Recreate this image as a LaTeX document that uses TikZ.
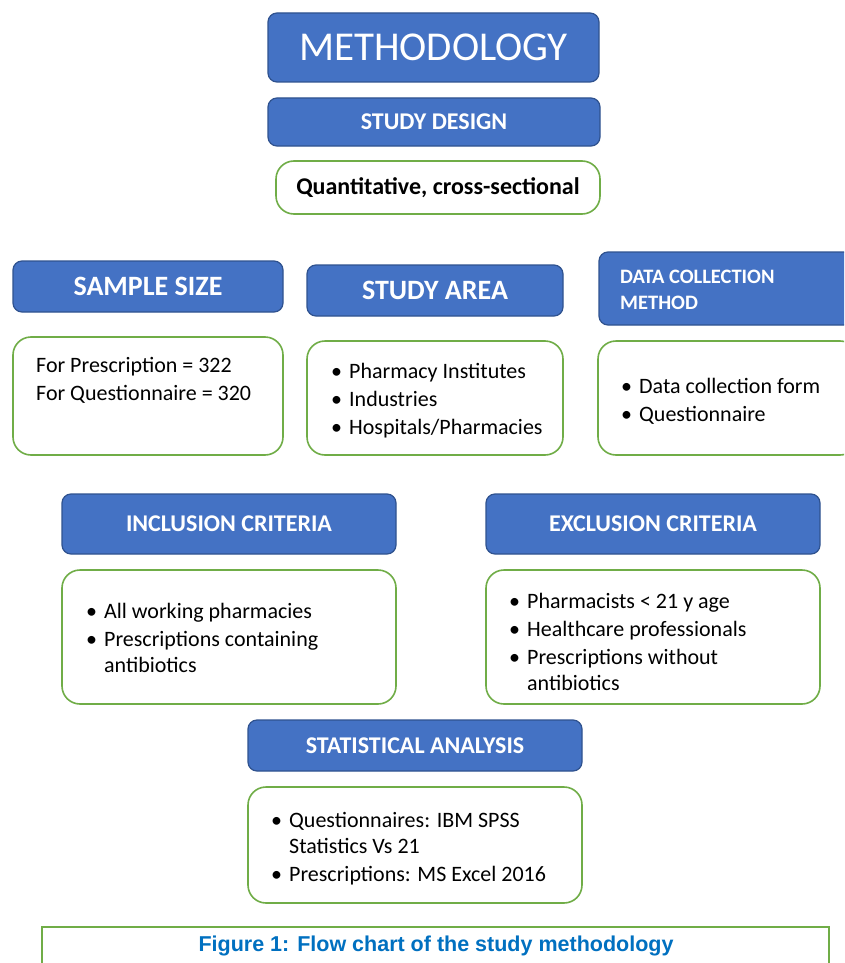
\documentclass[tikz,border=0pt]{standalone}
\usepackage{fontspec}
\setmainfont{Carlito}
\newfontfamily\capfont{Liberation Sans}
\definecolor{headblue}{HTML}{4472C4}
\definecolor{headedge}{HTML}{2F528F}
\definecolor{boxgreen}{HTML}{70AD47}
\definecolor{capblue}{HTML}{0070C0}
\newcommand{\fs}[2]{\fontsize{#1}{#2}\selectfont}
\tikzset{
  headbox/.style={draw=headedge, fill=headblue, line width=1.2pt, rounded corners=9pt,
    text=white, font=\bfseries\fs{24}{28}, inner sep=0pt},
  itembox/.style={draw=boxgreen, fill=white, line width=1.6pt, rounded corners=18pt, inner sep=0pt},
  itemtext/.style={anchor=base west, inner sep=0pt, align=left, font=\fs{22}{28}}
}
\begin{document}
\begin{tikzpicture}[x=1pt,y=-1pt]
  \useasboundingbox[fill=white] (0,0) rectangle (844,963);
  \clip (0,0) rectangle (844,963);
  % top column
  \node[headbox, minimum width=331pt, minimum height=69pt, font=\fs{41}{44}] (method) at (433.5,47.5) {METHODOLOGY};
  \node[headbox, minimum width=332pt, minimum height=48pt] (design) at (434,122) {STUDY DESIGN};
  \node[itembox, minimum width=324pt, minimum height=53pt, font=\bfseries\fs{24}{28}] (designbox) at (438,187.5) {Quantitative, cross-sectional};
  % three headings
  \node[headbox, minimum width=270pt, minimum height=51pt, font=\bfseries\fs{28}{32}] (sample) at (148,286.5) {SAMPLE SIZE};
  \node[headbox, minimum width=256pt, minimum height=51pt, font=\bfseries\fs{28}{32}] (area) at (435,290.5) {STUDY AREA};
  \node[headbox, minimum width=260pt, minimum height=73pt] (data) at (729,288.5) {};
  \node[anchor=west, text=white, font=\bfseries\fs{20.5}{26}, align=left, inner sep=0pt] (datatext) at (620,290) {DATA COLLECTION\\METHOD};
  % three lists
  \node[itembox, minimum width=270pt, minimum height=118pt] (samplebox) at (148,396) {};
  \node[itemtext] (sampletext) at (36,372) {\begin{tabular}[t]{@{}l@{}}
    For Prescription = 322\\
    For Questionnaire = 320
  \end{tabular}};
  \node[itembox, minimum width=256pt, minimum height=114pt] (areabox) at (435,398) {};
  \node[itemtext] (areatext) at (331,378) {\begin{tabular}[t]{@{}l@{\hspace{7pt}}l@{}}
    \textbullet & Pharmacy Institutes\\
    \textbullet & Industries\\
    \textbullet & Hospitals/Pharmacies
  \end{tabular}};
  \node[itembox, minimum width=260pt, minimum height=114pt] (databox) at (728,398) {};
  \node[itemtext] (datalist) at (621,393) {\begin{tabular}[t]{@{}l@{\hspace{7pt}}l@{}}
    \textbullet & Data collection form\\
    \textbullet & Questionnaire
  \end{tabular}};
  % criteria
  \node[headbox, minimum width=334pt, minimum height=60pt] (incl) at (229,524) {INCLUSION CRITERIA};
  \node[headbox, minimum width=334pt, minimum height=60pt] (excl) at (653,524) {EXCLUSION CRITERIA};
  \node[itembox, minimum width=334pt, minimum height=134pt] (inclbox) at (229,637) {};
  \node[itemtext] (incltext) at (86,618) {\begin{tabular}[t]{@{}l@{\hspace{7pt}}l@{}}
    \textbullet & All working pharmacies\\
    \textbullet & Prescriptions containing\\[-2pt]
                & antibiotics
  \end{tabular}};
  \node[itembox, minimum width=334pt, minimum height=134pt] (exclbox) at (653,637) {};
  \node[itemtext] (excltext) at (509,608) {\begin{tabular}[t]{@{}l@{\hspace{7pt}}l@{}}
    \textbullet & Pharmacists < 21 y age\\
    \textbullet & Healthcare professionals\\
    \textbullet & Prescriptions without\\[-2pt]
                & antibiotics
  \end{tabular}};
  % analysis
  \node[headbox, minimum width=334pt, minimum height=51pt] (stats) at (415,745.5) {STATISTICAL ANALYSIS};
  \node[itembox, minimum width=334pt, minimum height=116pt] (statsbox) at (415,845) {};
  \node[itemtext] (statstext) at (271,827) {\begin{tabular}[t]{@{}l@{\hspace{7pt}}l@{}}
    \textbullet & Questionnaires: IBM SPSS\\[-2pt]
                & Statistics Vs 21\\
    \textbullet & Prescriptions: MS Excel 2016
  \end{tabular}};
  % caption
  \node[draw=boxgreen, line width=1.6pt, minimum width=787pt, minimum height=70pt, anchor=north, inner sep=0pt] (capbox) at (435.5,926) {};
  \node[text=capblue, font=\capfont\bfseries\fs{21.5}{24}] (captext) at (436,946) {Figure 1: Flow chart of the study methodology};
\end{tikzpicture}
\end{document}
